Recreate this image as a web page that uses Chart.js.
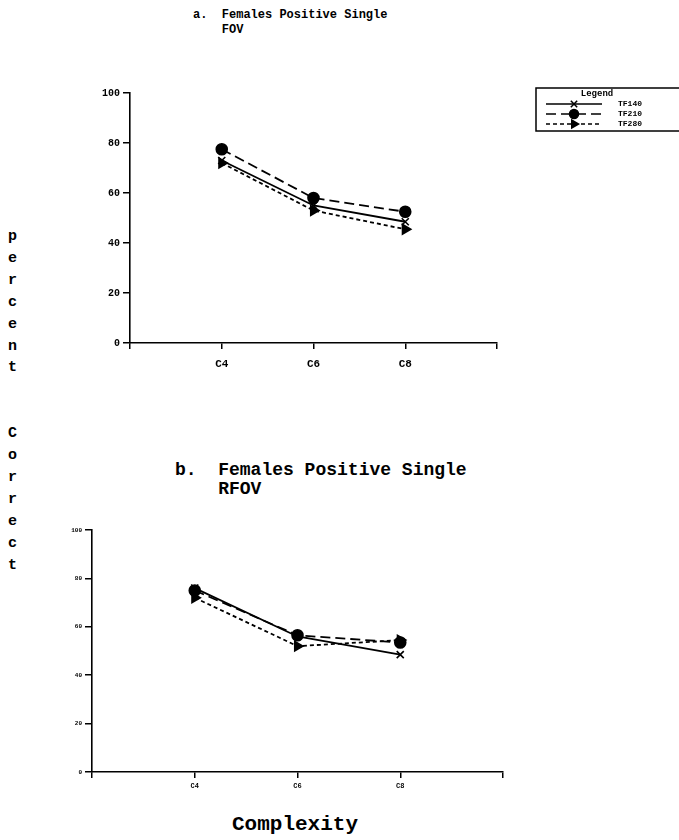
<!DOCTYPE html>
<html>
<head>
<meta charset="utf-8">
<script src="https://cdn.jsdelivr.net/npm/chart.js@4.4.1/dist/chart.umd.min.js"></script>
<style>
  body { margin: 0; background: #fff; width: 679px; height: 840px; position: relative; overflow: hidden;
         font-family: "Liberation Mono", "DejaVu Sans Mono", monospace; font-weight: bold; color: #000; }
  .txt { position: absolute; white-space: pre; }
  canvas { position: absolute; left: 0; }
</style>
</head>
<body>
<div class="txt" style="left:193px;top:8px;font-size:12px;line-height:15px">a.  Females Positive Single
    FOV</div>
<div class="txt" style="left:175px;top:461px;font-size:18px;line-height:19px">b.  Females Positive Single
    RFOV</div>
<div class="txt" style="left:8px;top:226px;font-size:15px;line-height:21.9px">p
e
r
c
e
n
t


C
o
r
r
e
c
t</div>
<div class="txt" style="left:232px;top:814px;font-size:21px;line-height:22px">Complexity</div>

<canvas id="chartA" width="679" height="380" style="top:0"></canvas>
<canvas id="chartB" width="679" height="460" style="top:380px"></canvas>

<script>
// categories (positions 1..3 on a 0..4 axis, like the original plot)
const complexity = ['C4', 'C6', 'C8'];
const xPos = [1, 2, 3];
const seriesNames = ['TF140', 'TF210', 'TF280'];

// a. Females Positive Single FOV
const fovTF140 = [73, 55, 48.5];
const fovTF210 = [77.5, 58, 52.5];
const fovTF280 = [72, 53, 45.5];

// b. Females Positive Single RFOV
const rfovTF140 = [76, 56, 48.5];
const rfovTF210 = [75, 56.5, 53.5];
const rfovTF280 = [72, 52, 54.5];

const yTicks = [0, 20, 40, 60, 80, 100];

const MONO = '"Liberation Mono", "DejaVu Sans Mono", monospace';

const styles = [
    { borderDash: [], pointStyle: 'crossRot', pointRotation: 0, radius: 5 },
    { borderDash: [10, 5], pointStyle: 'circle', pointRotation: 0, radius: 5.5 },
    { borderDash: [4, 3], pointStyle: 'triangle', pointRotation: 90, radius: 5.5 }
];

function makeDatasets(values) {
    return values.map((vals, i) => ({
        label: seriesNames[i],
        data: vals.map((v, j) => ({ x: xPos[j], y: v })),
        borderColor: '#000',
        backgroundColor: '#000',
        borderWidth: 1.8,
        borderDash: styles[i].borderDash,
        pointStyle: styles[i].pointStyle,
        pointRotation: styles[i].pointRotation,
        pointRadius: styles[i].radius,
        pointBorderWidth: 1.6,
        tension: 0
    }));
}

// boxed legend like the original, drawn only on the first chart
const boxLegend = {
    id: 'boxLegend',
    afterDraw(chart) {
        const ctx = chart.ctx;
        const left = 536, top = 88, w = 150, h = 43;
        ctx.save();
        ctx.strokeStyle = '#000';
        ctx.lineWidth = 1.5;
        ctx.strokeRect(left, top, w, h);
        ctx.fillStyle = '#000';
        ctx.font = 'bold 9px ' + MONO;
        ctx.textAlign = 'center';
        ctx.textBaseline = 'middle';
        ctx.fillText('Legend', 597, 94);
        chart.data.datasets.forEach((ds, i) => {
            const y = 104 + i * 10;
            ctx.setLineDash(ds.borderDash);
            ctx.lineWidth = 1.5;
            ctx.beginPath();
            ctx.moveTo(546, y);
            ctx.lineTo(602, y);
            ctx.stroke();
            ctx.setLineDash([]);
            Chart.helpers.drawPoint(ctx, {
                pointStyle: ds.pointStyle, rotation: ds.pointRotation,
                radius: 4.5, borderWidth: 1.5
            }, 574, y);
            ctx.textAlign = 'left';
            ctx.font = 'bold 8px ' + MONO;
            ctx.fillText(ds.label, 618, y);
        });
        ctx.restore();
    }
};

function makeChart(id, values, opt) {
    return new Chart(document.getElementById(id), {
        type: 'line',
        data: { datasets: makeDatasets(values) },
        plugins: opt.legend ? [boxLegend] : [],
        options: {
            responsive: false,
            animation: false,
            layout: { padding: opt.padding },
            plugins: { legend: { display: false }, tooltip: { enabled: false }, title: { display: false } },
            scales: {
                x: {
                    type: 'linear', min: 0, max: 4,
                    afterFit: s => { s.height = 30; },
                    afterBuildTicks: s => { s.ticks = [0, 1, 2, 3, 4].map(v => ({ value: v })); },
                    ticks: {
                        color: '#000', padding: opt.xPad, maxRotation: 0,
                        font: { family: MONO, weight: 'bold', size: opt.xFont },
                        callback: v => complexity[v - 1] || ''
                    },
                    grid: { drawOnChartArea: false, drawTicks: true, tickLength: 6, color: '#000', lineWidth: 1.5 },
                    border: { display: true, color: '#000', width: 1.6 }
                },
                y: {
                    min: 0, max: 100,
                    afterFit: s => { s.width = opt.yWidth; },
                    afterBuildTicks: s => { s.ticks = yTicks.map(v => ({ value: v })); },
                    ticks: {
                        color: '#000', padding: 3,
                        font: { family: MONO, weight: 'bold', size: opt.yFont }
                    },
                    grid: { drawOnChartArea: false, drawTicks: true, tickLength: 7, color: '#000', lineWidth: 1.5 },
                    border: { display: true, color: '#000', width: 1.6 }
                }
            }
        }
    });
}

makeChart('chartA', [fovTF140, fovTF210, fovTF280], {
    legend: true, yWidth: 45, yFont: 10, xFont: 11, xPad: 9,
    padding: { left: 85, top: 93, right: 182, bottom: 7 }
});

makeChart('chartB', [rfovTF140, rfovTF210, rfovTF280], {
    legend: false, yWidth: 30, yFont: 6, xFont: 7, xPad: 4,
    padding: { left: 62, top: 150, right: 176, bottom: 38 }
});
</script>
</body>
</html>
